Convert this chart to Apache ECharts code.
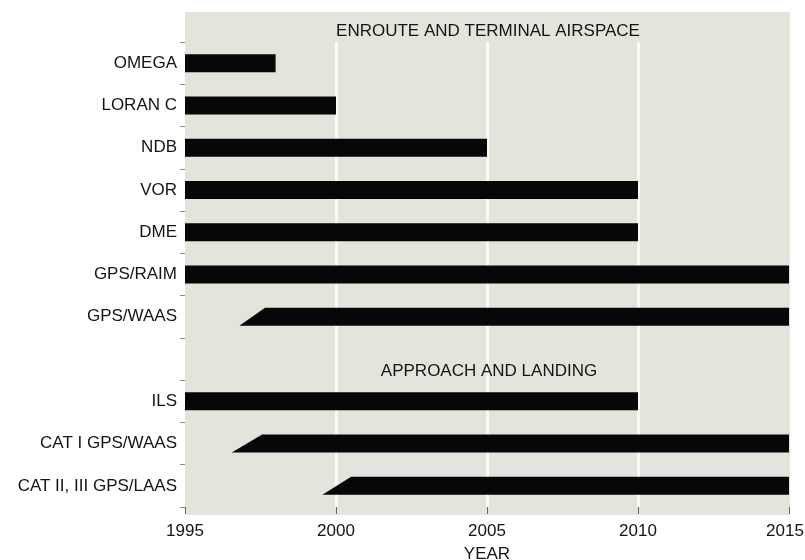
<!DOCTYPE html>
<html>
<head>
<meta charset="utf-8">
<script src="https://cdn.jsdelivr.net/npm/echarts@6/dist/echarts.min.js"></script>
<style>
  html, body { margin: 0; padding: 0; background: #fff; }
  #chart { width: 805px; height: 560px; }
</style>
</head>
<body>
<div id="chart"></div>
<script>
// rows top to bottom; the empty row holds the "APPROACH AND LANDING" heading
const categories = ['OMEGA', 'LORAN C', 'NDB', 'VOR', 'DME', 'GPS/RAIM', 'GPS/WAAS', '',
  'ILS', 'CAT I GPS/WAAS', 'CAT II, III GPS/LAAS'];
// year where the bar starts at its lower edge
const startYear = [1995, 1995, 1995, 1995, 1995, 1995, 1996.8, null, 1995, 1996.55, 1999.55];
// year where the bar reaches full height (slanted lead-in for phased systems)
const fullYear = [1995, 1995, 1995, 1995, 1995, 1995, 1997.65, null, 1995, 1997.55, 2000.5];
const endYear = [1998, 2000, 2005, 2010, 2010, 2015, 2015, null, 2010, 2015, 2015];
const yearTicks = [1995, 2000, 2005, 2010, 2015];

const FONT = "'Liberation Sans', Arial, Helvetica, sans-serif";
const TEXT = '#141414';

const rows = [];
categories.forEach((c, i) => {
  if (startYear[i] == null) return;
  rows.push([i, startYear[i], fullYear[i], endYear[i]]);
});

const chart = echarts.init(document.getElementById('chart'));

const option = {
  animation: false,
  backgroundColor: '#ffffff',
  grid: { left: 185, right: 16, top: 42, bottom: 53, outerBoundsMode: 'none', containLabel: false },
  graphic: [
    {
      type: 'rect', z: -100, silent: true,
      shape: { x: 185, y: 12, width: 605, height: 503 },
      style: { fill: '#e4e4dd' }
    },
    {
      type: 'text', z: 100, x: 488, y: 31,
      style: { text: 'ENROUTE AND TERMINAL AIRSPACE', font: '17px ' + FONT, fill: TEXT,
        align: 'center', verticalAlign: 'middle' }
    },
    {
      type: 'text', z: 100, x: 489, y: 371,
      style: { text: 'APPROACH AND LANDING', font: '17px ' + FONT, fill: TEXT,
        align: 'center', verticalAlign: 'middle' }
    }
  ],
  xAxis: {
    type: 'value',
    min: yearTicks[0],
    max: yearTicks[yearTicks.length - 1],
    interval: 5,
    name: 'YEAR',
    nameLocation: 'middle',
    nameGap: 39,
    nameTextStyle: { fontFamily: FONT, fontSize: 17, color: TEXT },
    axisLine: { show: false },
    axisTick: { show: true, length: 7, lineStyle: { color: '#666', width: 1 } },
    axisLabel: {
      fontFamily: FONT, fontSize: 17, color: TEXT, margin: 16,
      // last label sits a little left of its tick, as in the print
      formatter: (v) => v === yearTicks[yearTicks.length - 1] ? '{last|' + v + '}' : String(v),
      rich: {
        last: { fontFamily: FONT, fontSize: 17, color: TEXT, padding: [0, 8, 0, 0] }
      }
    },
    splitLine: {
      show: true, showMinLine: false, showMaxLine: false,
      lineStyle: { color: '#fafaf5', width: 3 }
    }
  },
  yAxis: {
    type: 'category',
    data: categories,
    inverse: true,
    axisLine: { show: false },
    axisTick: { show: true, interval: 0, length: 5, lineStyle: { color: '#888' } },
    axisLabel: { interval: 0, fontFamily: FONT, fontSize: 17, color: TEXT, margin: 8 },
    splitLine: { show: false }
  },
  series: [
    {
      type: 'custom',
      encode: { x: [1, 2, 3], y: 0 },
      data: rows,
      renderItem: function (params, api) {
        const cat = api.value(0);
        const bl = api.coord([api.value(1), cat]);
        const tl = api.coord([api.value(2), cat]);
        const r = api.coord([api.value(3), cat]);
        const h = 18;
        return {
          type: 'polygon',
          shape: {
            points: [
              [bl[0], bl[1] + h / 2],
              [tl[0], tl[1] - h / 2],
              [r[0], r[1] - h / 2],
              [r[0], r[1] + h / 2]
            ]
          },
          style: { fill: '#070707' }
        };
      }
    }
  ]
};

chart.setOption(option);
</script>
</body>
</html>
